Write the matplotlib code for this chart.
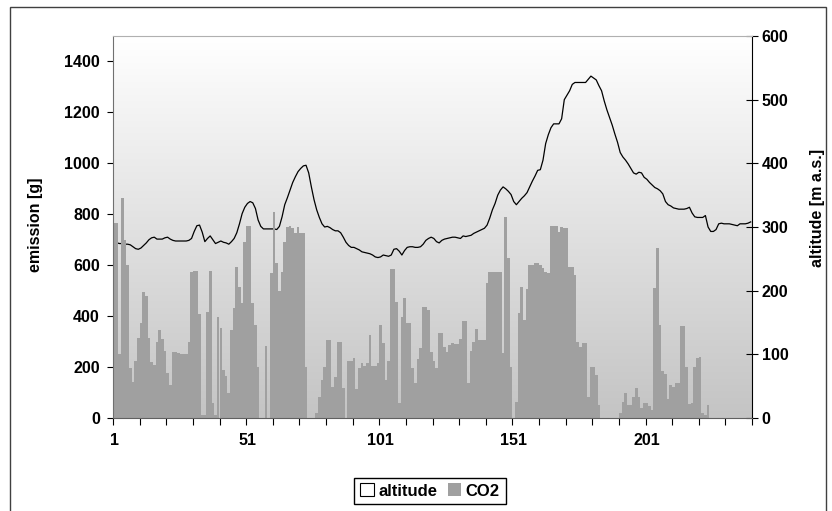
import numpy as np
import matplotlib.pyplot as plt
from matplotlib.patches import Patch, Rectangle
from matplotlib.colors import LinearSegmentedColormap

# CO2 emission per sample [g]
co2 = [765, 765, 250, 862, 700, 600, 195, 140, 225, 313,
       372, 496, 480, 315, 221, 210, 300, 345, 310, 265,
       175, 130, 260, 260, 255, 250, 250, 250, 300, 575,
       577, 577, 410, 10, 10, 415, 577, 60, 10, 395,
       352, 188, 165, 100, 345, 430, 594, 515, 450, 692,
       754, 754, 450, 365, 200, 0, 0, 283, 0, 570,
       810, 607, 500, 575, 690, 750, 754, 745, 725, 750,
       728, 728, 199, 0, 0, 0, 20, 84, 150, 200,
       306, 306, 123, 160, 300, 300, 116, 0, 225, 225,
       234, 112, 195, 215, 204, 215, 326, 204, 204, 215,
       365, 296, 150, 225, 584, 584, 457, 58, 398, 470,
       374, 374, 195, 136, 230, 274, 437, 437, 424, 260,
       225, 195, 335, 335, 280, 260, 287, 296, 290, 290,
       309, 382, 382, 139, 263, 300, 348, 306, 306, 306,
       531, 575, 575, 575, 575, 575, 254, 790, 630, 199,
       0, 64, 413, 513, 385, 505, 600, 600, 607, 607,
       600, 588, 575, 568, 754, 754, 754, 732, 749, 745,
       745, 594, 594, 562, 300, 280, 296, 296, 84, 199,
       199, 169, 51, 0, 0, 0, 0, 0, 0, 0,
       18, 64, 100, 51, 51, 81, 116, 81, 40, 58,
       58, 47, 31, 509, 666, 365, 186, 173, 73, 130,
       120, 136, 136, 361, 361, 202, 55, 58, 202, 234,
       238, 18, 12, 51, 0, 0, 0, 0, 0, 0,
       0, 0, 0, 0, 0, 0, 0, 0, 0, 0]

# altitude per sample [m a.s.]
altitude = [275, 275, 274, 274, 273, 273, 272, 269, 266, 265,
            267, 271, 275, 280, 283, 284, 281, 281, 281, 283,
            284, 281, 279, 278, 278, 278, 278, 278, 279, 282,
            293, 302, 303, 292, 277, 282, 286, 280, 274, 276,
            278, 276, 275, 273, 277, 282, 291, 305, 321, 331,
            337, 340, 338, 329, 311, 301, 297, 297, 297, 297,
            297, 296, 301, 316, 335, 346, 358, 370, 379, 387,
            392, 396, 397, 385, 363, 343, 327, 315, 305, 300,
            301, 299, 296, 294, 294, 291, 284, 276, 271, 268,
            268, 266, 264, 261, 260, 259, 258, 256, 253, 252,
            253, 256, 255, 254, 256, 265, 266, 262, 256, 263,
            268, 269, 269, 268, 268, 269, 273, 279, 282, 284,
            282, 277, 275, 279, 281, 282, 283, 284, 284, 283,
            282, 286, 285, 286, 287, 290, 292, 294, 296, 298,
            303, 314, 327, 337, 350, 358, 363, 360, 356, 351,
            340, 335, 340, 345, 349, 354, 363, 372, 380, 389,
            390, 405, 431, 445, 456, 462, 462, 462, 470, 500,
            507, 514, 524, 527, 527, 527, 527, 527, 532, 537,
            534, 531, 522, 514, 498, 484, 472, 460, 446, 433,
            417, 410, 405, 399, 392, 385, 383, 386, 385, 378,
            375, 370, 366, 362, 360, 357, 352, 340, 335, 333,
            330, 329, 328, 328, 328, 329, 331, 322, 316, 315,
            315, 315, 318, 300, 293, 293, 296, 305, 306, 305,
            305, 305, 304, 303, 302, 305, 305, 305, 306, 308]

samples = np.arange(1, len(co2) + 1)
x_labels = [1, 51, 101, 151, 201]

plt.rcParams['font.family'] = ['Liberation Sans', 'DejaVu Sans']
plt.rcParams['font.weight'] = 'bold'
plt.rcParams['axes.labelweight'] = 'bold'

W, H = 832, 511
fs = 11.5
fig = plt.figure(figsize=(W / 100, H / 100), dpi=100)
ax = fig.add_axes([113 / W, 1 - 418 / H, 639 / W, 382 / H])
ax2 = ax.twinx()

# bars above the line, gradient background on the lower axes
ax.set_zorder(2)
ax2.set_zorder(1)
ax.patch.set_visible(False)
grad = LinearSegmentedColormap.from_list('bg', ['#ffffff', '#c4c4c4'])
ax2.imshow(np.linspace(0, 1, 256).reshape(-1, 1), cmap=grad, extent=[0, 1, 0, 1],
           transform=ax2.transAxes, aspect='auto', zorder=0)

ax2.plot(samples, altitude, color='black', lw=0.9, zorder=2)
ax.bar(samples, co2, width=1.0, color='#a0a0a0', edgecolor='none', zorder=2)

ax.set_xlim(0.5, len(co2) + 0.5)
ax2.set_xlim(0.5, len(co2) + 0.5)
ax.set_ylim(0, 1500)
ax2.set_ylim(0, 600)

ax.set_xticks(x_labels)
ax.set_xticklabels([str(v) for v in x_labels])
ax.set_xticks(np.arange(0.5, len(co2) + 1, 10), minor=True)
ax.tick_params(axis='x', which='major', length=0, pad=11, labelsize=fs)
ax.tick_params(axis='x', which='minor', length=5, width=0.8, direction='out')
ax.set_yticks(np.arange(0, 1401, 200))
ax.tick_params(axis='y', length=4.5, width=0.8, direction='out', pad=5, labelsize=fs)
ax2.set_yticks(np.arange(0, 601, 100))
ax2.tick_params(axis='y', length=8, width=0.8, direction='inout', pad=3, labelsize=fs)

ax.set_ylabel('emission [g]', fontsize=fs)
ax.yaxis.set_label_coords(-0.11, 0.505)
ax2.set_ylabel('altitude [m a.s.]', fontsize=fs)
ax2.yaxis.set_label_coords(1.09, 0.55)

for s in ['top', 'right', 'left', 'bottom']:
    ax2.spines[s].set_visible(False)
ax2.spines['right'].set_visible(True)
ax2.spines['right'].set_color('black')
ax.spines['right'].set_visible(False)
ax.spines['top'].set_color('#b0b0b0')
ax.spines['left'].set_color('#707070')
ax.spines['bottom'].set_color('#606060')

handles = [Patch(facecolor='white', edgecolor='black', lw=0.8),
           Patch(facecolor='#a0a0a0', edgecolor='none')]
fig.legend(handles, ['altitude', 'CO2'], loc='center', bbox_to_anchor=(430 / W, 1 - 491 / H),
           ncol=2, frameon=True, fancybox=False, edgecolor='black', framealpha=1,
           handlelength=0.8, handleheight=0.8, columnspacing=0.6, handletextpad=0.3,
           borderpad=0.35, fontsize=12)

fig.patches.append(Rectangle((10 / W, -0.05), 816 / W, 1.05 - 7 / H, transform=fig.transFigure,
                             fill=False, edgecolor='#404040', lw=1))

fig.savefig('out.png', dpi=100)
